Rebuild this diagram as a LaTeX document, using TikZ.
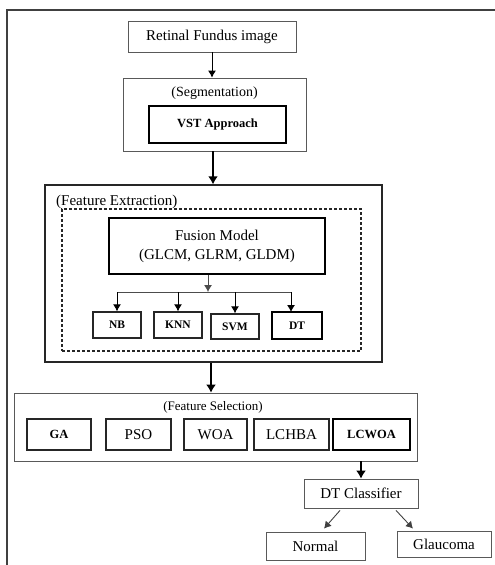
\documentclass[tikz,border=0pt]{standalone}
\usepackage{fontspec}
\setmainfont{Liberation Serif}
\usetikzlibrary{arrows.meta,calc}
\begin{document}
\begin{tikzpicture}[x=1pt,y=-1pt,
  thinbox/.style={draw=black!65,line width=0.8pt,inner sep=0pt,font=\fontsize{15}{17}\selectfont},
  midbox/.style={draw=black!85,line width=1.4pt,inner sep=0pt},
  boldbox/.style={draw=black,line width=2.6pt,inner sep=0pt},
  smallbold/.style={font=\fontsize{11.5}{13}\selectfont\bfseries},
  arr/.style={-{Latex[length=7pt,width=8pt]},line width=0.9pt},
  thickarr/.style={-{Latex[length=8pt,width=10pt]},line width=2.6pt},
  lbl/.style={inner sep=0pt}
]
\useasboundingbox (0,0) rectangle (495,565);
\draw[black!75,line width=1.2pt] (495,10) -- (7,10) -- (7,565);

% top
\node[thinbox,minimum width=168pt,minimum height=31pt] (rfi) at (212,36.5) {Retinal Fundus image};
\node[thinbox,minimum width=183pt,minimum height=73pt] (seg) at (214.5,114.5) {};
\node[lbl,font=\fontsize{14}{16}\selectfont] (segl) at (214.5,93) {(Segmentation)};
\node[boldbox,minimum width=137pt,minimum height=37pt,font=\fontsize{12.5}{15}\selectfont\bfseries] (vst) at (217.5,124.5) {VST Approach};

% feature extraction
\node[midbox,minimum width=337pt,minimum height=177pt] (fe) at (213.5,273.5) {};
\node[lbl,font=\fontsize{15}{17}\selectfont,anchor=west] (fel) at (56,202) {(Feature Extraction)};
\node[draw=black!85,dash pattern=on 3pt off 2pt,line width=1.1pt,minimum width=299pt,minimum height=142pt,inner sep=0pt] (dash) at (211.5,280) {};
\node[boldbox,minimum width=216pt,minimum height=56pt,align=center,font=\fontsize{15}{19}\selectfont] (fus) at (217,246) {Fusion Model\\(GLCM, GLRM, GLDM)};
\node[midbox,smallbold,minimum width=48pt,minimum height=26pt] (nb) at (117,325) {NB};
\node[midbox,smallbold,minimum width=48pt,minimum height=26pt] (knn) at (178,325) {KNN};
\node[midbox,smallbold,minimum width=48pt,minimum height=25pt] (svm) at (235,326.5) {SVM};
\node[boldbox,smallbold,minimum width=50pt,minimum height=27pt] (dt) at (297,325.5) {DT};
\coordinate (split) at (208,292);
\coordinate (dtin) at (291,312);
\draw[arr,draw=black!70] (fus.south -| split) -- (split);
\draw[line width=0.9pt,black!70] (nb.north |- split) -- (dtin |- split);
\draw[arr] (nb.north |- split) -- (nb.north);
\draw[arr] (knn.north |- split) -- (knn.north);
\draw[arr] (svm.north |- split) -- (svm.north);
\draw[arr] (dtin |- split) -- (dtin);

% feature selection
\node[thinbox,minimum width=403pt,minimum height=68pt] (fs) at (215.5,427) {};
\node[lbl,font=\fontsize{13}{15}\selectfont] (fsl) at (213,407) {(Feature Selection)};
\node[midbox,minimum width=64pt,minimum height=31pt,font=\fontsize{12.5}{15}\selectfont\bfseries] (ga) at (59,434.5) {GA};
\node[midbox,minimum width=65pt,minimum height=31pt,font=\fontsize{15}{17}\selectfont] (pso) at (138.5,434.5) {PSO};
\node[midbox,minimum width=63pt,minimum height=31pt,font=\fontsize{15}{17}\selectfont] (woa) at (215.5,434.5) {WOA};
\node[midbox,minimum width=75pt,minimum height=31pt,font=\fontsize{15}{17}\selectfont] (lchba) at (291.5,434.5) {LCHBA};
\node[boldbox,minimum width=77pt,minimum height=31pt,font=\fontsize{12.5}{15}\selectfont\bfseries] (lcwoa) at (371.5,434.5) {LCWOA};

% classifier
\node[thinbox,minimum width=114pt,minimum height=29pt] (dtc) at (361,493.5) {DT Classifier};
\node[thinbox,minimum width=99pt,minimum height=28pt] (nor) at (315.5,546) {Normal};
\node[thinbox,minimum width=94pt,minimum height=26pt] (gla) at (444,544) {Glaucoma};

% connectors
\draw[arr] (rfi.south) -- (seg.north -| rfi.south);
\draw[thickarr] (seg.south -| 213,0) -- (fe.north -| 213,0);
\draw[thickarr] (fe.south -| 211,0) -- (fs.north -| 211,0);
\draw[thickarr] (fs.south -| dtc.north) -- (dtc.north);
\draw[arr,draw=black!75] ($(dtc.south)+(-21,2)$) -- ($(nor.north)+(8.5,-3)$);
\draw[arr,draw=black!75] ($(dtc.south)+(35,2)$) -- ($(gla.north)+(-31,-2)$);
\end{tikzpicture}
\end{document}
